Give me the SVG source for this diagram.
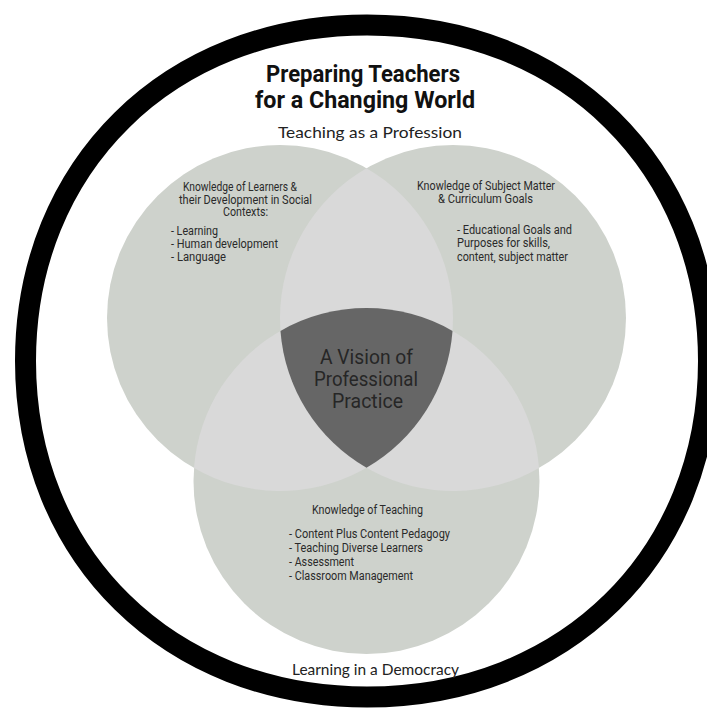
<svg xmlns="http://www.w3.org/2000/svg" width="707" height="713" viewBox="0 0 707 713">
  <style>
    .circle { fill: #ced2cc; }
    .lens { fill: #d9d9d9; }
    .core { fill: #666666; }
    .ring { fill: none; stroke: #000000; stroke-width: 21; }
    .title { font-family: Roboto, "Liberation Sans", sans-serif; font-weight: 700; font-size: 24px; fill: #111111; }
    .theme { font-family: Lato, "Noto Sans", sans-serif; font-size: 16px; fill: #222222; }
    .body { font-family: Roboto, "Liberation Sans", sans-serif; font-size: 12px; fill: #2a2a2a; }
    .vision { font-family: Roboto, "Liberation Sans", sans-serif; font-weight: 400; font-size: 21px; fill: #262626; }
  </style>

  <rect width="707" height="713" fill="#ffffff"/>

  <!-- outer frame: a near-circular band -->
  <path class="ring" d="M708.5 361 C708.5 555.9 565 697 367 697 C169 697 25.5 555.9 25.5 361 C25.5 166.1 169 25 367 25 C565 25 708.5 166.1 708.5 361 Z"/>

  <!-- heading -->
  <g id="title">
    <text class="title" x="266" y="81.5" textLength="194" lengthAdjust="spacingAndGlyphs">Preparing Teachers</text>
    <text class="title" x="255" y="107.5" textLength="220" lengthAdjust="spacingAndGlyphs">for a Changing World</text>
  </g>
  <g id="profession">
    <text class="theme" x="278" y="138" textLength="184" lengthAdjust="spacingAndGlyphs">Teaching as a Profession</text>
  </g>

  <!-- three knowledge circles -->
  <g id="learners">
    <circle class="circle" cx="280" cy="318" r="173"/>
  </g>
  <g id="subject">
    <circle class="circle" cx="453" cy="318" r="173"/>
  </g>
  <g id="teaching">
    <circle class="circle" cx="366.5" cy="481" r="173"/>
  </g>

  <!-- pairwise overlaps -->
  <g id="overlaps">
    <path class="lens" d="M366.5 168.18 A173 173 0 0 1 366.5 467.82 A173 173 0 0 1 366.5 168.18 Z"/>
    <path class="lens" d="M452.52 330.9 A173 173 0 0 1 193.98 468.1 A173 173 0 0 1 452.52 330.9 Z"/>
    <path class="lens" d="M280.48 330.9 A173 173 0 0 1 539.02 468.1 A173 173 0 0 1 280.48 330.9 Z"/>
  </g>

  <!-- shared centre -->
  <g id="vision">
    <path class="core" d="M280.48 330.9 A173 173 0 0 1 452.52 330.9 A173 173 0 0 1 366.5 467.82 A173 173 0 0 1 280.48 330.9 Z"/>
    <text class="vision" x="320" y="363.5" textLength="93" lengthAdjust="spacingAndGlyphs">A Vision of</text>
    <text class="vision" x="314" y="385.5" textLength="104" lengthAdjust="spacingAndGlyphs">Professional</text>
    <text class="vision" x="332" y="407.5" textLength="71" lengthAdjust="spacingAndGlyphs">Practice</text>
  </g>

  <!-- circle labels -->
  <g id="learners-text">
    <text class="body" x="183" y="191" textLength="114" lengthAdjust="spacingAndGlyphs">Knowledge of Learners &amp;</text>
    <text class="body" x="179" y="203.5" textLength="133" lengthAdjust="spacingAndGlyphs">their Development in Social</text>
    <text class="body" x="223" y="216" textLength="45" lengthAdjust="spacingAndGlyphs">Contexts:</text>
    <text class="body" x="171" y="235" textLength="47" lengthAdjust="spacingAndGlyphs">- Learning</text>
    <text class="body" x="171" y="248" textLength="107" lengthAdjust="spacingAndGlyphs">- Human development</text>
    <text class="body" x="171" y="261" textLength="55" lengthAdjust="spacingAndGlyphs">- Language</text>
  </g>
  <g id="subject-text">
    <text class="body" x="417" y="190" textLength="138" lengthAdjust="spacingAndGlyphs">Knowledge of Subject Matter</text>
    <text class="body" x="438" y="202.5" textLength="95" lengthAdjust="spacingAndGlyphs">&amp; Curriculum Goals</text>
    <text class="body" x="457" y="234" textLength="115" lengthAdjust="spacingAndGlyphs">- Educational Goals and</text>
    <text class="body" x="457" y="247" textLength="93" lengthAdjust="spacingAndGlyphs">Purposes for skills,</text>
    <text class="body" x="457" y="260.5" textLength="111" lengthAdjust="spacingAndGlyphs">content, subject matter</text>
  </g>
  <g id="teaching-text">
    <text class="body" x="312" y="514" textLength="111" lengthAdjust="spacingAndGlyphs">Knowledge of Teaching</text>
    <text class="body" x="289" y="538" textLength="161" lengthAdjust="spacingAndGlyphs">- Content Plus Content Pedagogy</text>
    <text class="body" x="289" y="552" textLength="134" lengthAdjust="spacingAndGlyphs">- Teaching Diverse Learners</text>
    <text class="body" x="289" y="566" textLength="65" lengthAdjust="spacingAndGlyphs">- Assessment</text>
    <text class="body" x="289" y="580" textLength="124" lengthAdjust="spacingAndGlyphs">- Classroom Management</text>
  </g>

  <g id="democracy">
    <text class="theme" x="292" y="675" textLength="167" lengthAdjust="spacingAndGlyphs">Learning in a Democracy</text>
  </g>
</svg>
